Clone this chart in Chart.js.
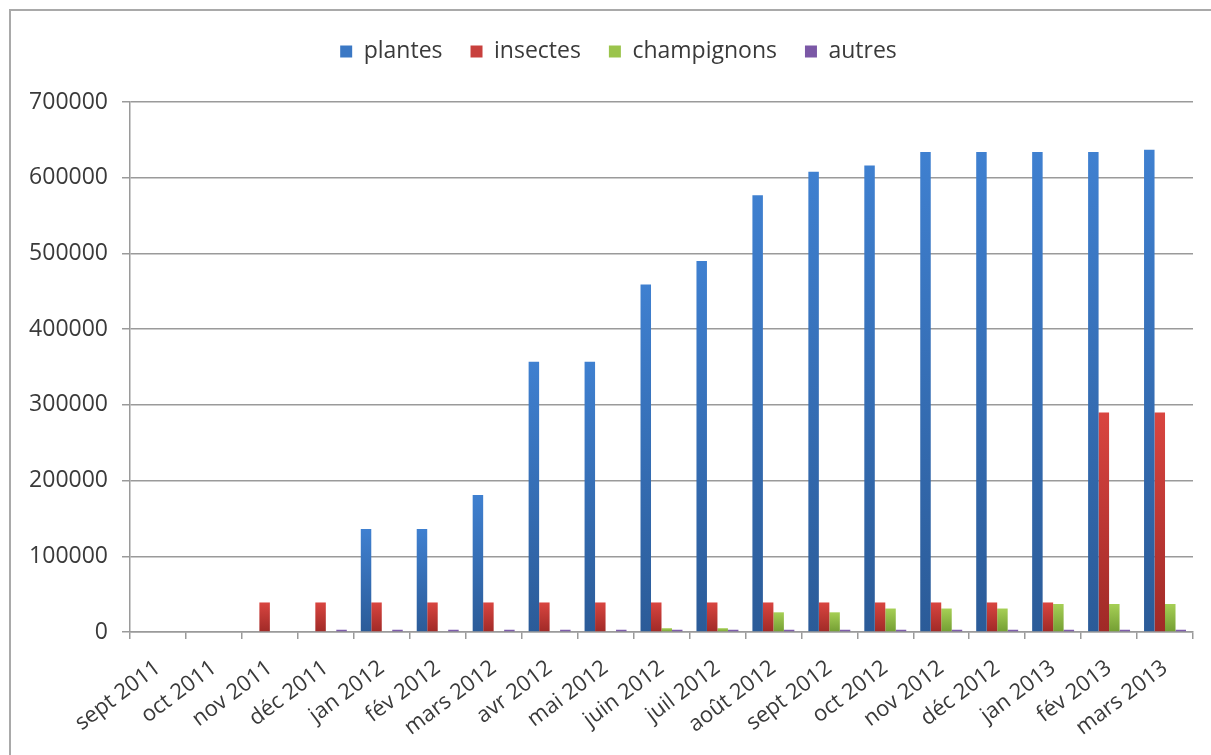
<!DOCTYPE html>
<html>
<head>
<meta charset="utf-8">
<script src="https://cdn.jsdelivr.net/npm/chart.js@4"></script>
<style>
  html, body { margin: 0; padding: 0; background: #fff; }
  #wrap { position: relative; width: 1211px; height: 755px; overflow: hidden; }
  #frame { position: absolute; left: 9px; top: 9px; width: 1400px; height: 900px;
           border-top: 2px solid #a9a9a9; border-left: 2px solid #a9a9a9; }
  canvas { position: absolute; left: 0; top: 0; }
</style>
</head>
<body>
<div id="wrap">
  <div id="frame"></div>
  <canvas id="chart" width="1211" height="755"></canvas>
</div>
<script>
// months, sept 2011 -> mars 2013
const months = ["sept 2011","oct 2011","nov 2011","déc 2011","jan 2012","fév 2012","mars 2012",
  "avr 2012","mai 2012","juin 2012","juil 2012","août 2012","sept 2012","oct 2012","nov 2012",
  "déc 2012","jan 2013","fév 2013","mars 2013"];

const plantes = [0,0,0,0,136000,136000,181000,357000,357000,459000,490000,577000,608000,616000,634000,634000,634000,634000,637000];
const insectes = [0,0,39000,39000,39000,39000,39000,39000,39000,39000,39000,39000,39000,39000,39000,39000,39000,290000,290000];
const champignons = [0,0,0,0,0,0,0,0,0,5000,5000,26000,26000,31000,31000,31000,37000,37000,37000];
const autres = [0,0,0,3000,3000,3000,3000,3000,3000,3000,3000,3000,3000,3000,3000,3000,3000,3000,3000];

const yTicks = [0,100000,200000,300000,400000,500000,600000,700000];

// vertical gradient per bar, light on top, dark at the bottom
function barFill(flat, light, dark) {
  return function(ctx) {
    if (ctx.type !== "data") return flat;
    const chart = ctx.chart, y = chart.scales.y;
    if (!y || !chart.chartArea) return flat;
    const top = y.getPixelForValue(ctx.raw), base = y.getPixelForValue(0);
    if (!(base - top > 1)) return flat;
    const g = chart.ctx.createLinearGradient(0, top, 0, base);
    g.addColorStop(0, light);
    g.addColorStop(1, dark);
    return g;
  };
}

// extra room under the legend, and nudge it a bit to the right
const legendTweak = {
  id: "legendTweak",
  beforeLayout(chart) {
    const lg = chart.legend;
    if (!lg || lg._patched) return;
    const fit = lg.fit;
    lg.fit = function() { fit.call(this); this.height += 29; };
    lg._patched = true;
  },
  afterLayout(chart) {
    if (chart.legend) chart.legend.left += 44;
  }
};

const font = "'Open Sans', sans-serif";
const txt = "#3a3a3a";
const lineCol = "#9a9a9a";

new Chart(document.getElementById("chart"), {
  type: "bar",
  data: {
    labels: months,
    datasets: [
      { label: "plantes", data: plantes, backgroundColor: barFill("#3b78c4", "#3f80d0", "#2b5b98") },
      { label: "insectes", data: insectes, backgroundColor: barFill("#c8403d", "#d94540", "#a02a27") },
      { label: "champignons", data: champignons, backgroundColor: barFill("#9bc44c", "#a6cf55", "#739e33") },
      { label: "autres", data: autres, backgroundColor: barFill("#7b58a6", "#8a66b8", "#674a90") }
    ]
  },
  plugins: [legendTweak],
  options: {
    responsive: false,
    animation: false,
    categoryPercentage: 0.75,
    barPercentage: 1,
    layout: { padding: { top: 12, right: 18, left: 0, bottom: 0 } },
    plugins: {
      tooltip: { enabled: false },
      legend: {
        position: "top",
        labels: {
          boxWidth: 12, boxHeight: 12, padding: 28,
          color: txt, font: { family: font, size: 23 }
        }
      }
    },
    scales: {
      x: {
        grid: { drawOnChartArea: false, color: lineCol, lineWidth: 1.5, tickLength: 7 },
        border: { color: lineCol, width: 1.5 },
        ticks: {
          autoSkip: false, minRotation: 37, maxRotation: 37, padding: 16,
          color: txt, font: { family: font, size: 22 }
        },
        afterFit: s => { s.height = 123; }
      },
      y: {
        min: 0, max: 700000,
        afterBuildTicks: s => { s.ticks = yTicks.map(v => ({ value: v })); },
        grid: { color: lineCol, lineWidth: 1.5, tickLength: 8 },
        border: { color: lineCol, width: 1.5 },
        ticks: {
          padding: 14, color: txt, font: { family: font, size: 23 },
          callback: v => String(v)
        },
        afterFit: s => { s.width = 130; }
      }
    }
  }
});
</script>
</body>
</html>
